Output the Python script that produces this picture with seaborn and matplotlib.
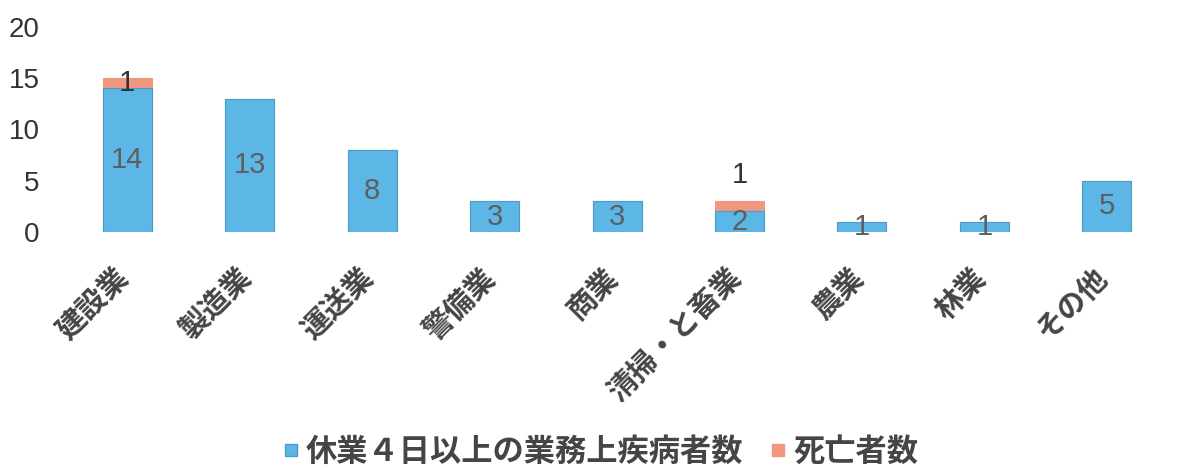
import matplotlib
matplotlib.use("Agg")
import matplotlib.pyplot as plt
import matplotlib.transforms as mtransforms
from matplotlib.lines import Line2D
import pandas as pd
import seaborn as sns

# Occupational illness counts by industry
categories = ["建設業", "製造業", "運送業", "警備業", "商業", "清掃・と畜業", "農業", "林業", "その他"]
sick_leave = [14, 13, 8, 3, 3, 2, 1, 1, 5]   # 休業4日以上の業務上疾病者数
deaths = [1, 0, 0, 0, 0, 1, 0, 0, 0]          # 死亡者数
y_ticks = [0, 5, 10, 15, 20]

legend_labels = ["休業４日以上の業務上疾病者数", "死亡者数"]
BLUE = "#5cb6e6"
RED = "#f0977f"

sns.set_theme(style="white")
plt.rcParams["font.family"] = ["Noto Sans CJK JP", "DejaVu Sans"]
NUM_FONT = ["Liberation Sans Narrow", "Liberation Sans", "DejaVu Sans"]

df = pd.DataFrame({
    "category": categories,
    "sick": sick_leave,
    "deaths": deaths,
})
df["total"] = df["sick"] + df["deaths"]

fig = plt.figure(figsize=(11.9, 4.7), dpi=100)
ax = fig.add_axes([0.0555, 0.5064, 0.926, 0.4362])

# Stacked bars: totals in red underneath, sick-leave counts in blue on top
sns.barplot(data=df, x="category", y="total", color=RED, saturation=1,
            width=0.4, ax=ax, edgecolor=RED, linewidth=0.8)
sns.barplot(data=df, x="category", y="sick", color=BLUE, saturation=1,
            width=0.4, ax=ax, edgecolor="#4a9ccc", linewidth=0.8)

ax.set_ylim(0, 20)
ax.set_xlim(-0.5, len(categories) - 0.5)
ax.set_yticks(y_ticks)
ax.set_yticklabels([str(t) for t in y_ticks], fontsize=20,
                   family=["Liberation Sans", "DejaVu Sans"], color="#333333")
ax.tick_params(axis="y", length=0, pad=19)
ax.tick_params(axis="x", length=0, pad=22)
ax.set_xlabel("")
ax.set_ylabel("")
for s in ax.spines.values():
    s.set_visible(False)
ax.grid(False)

ax.set_xticks(range(len(categories)))
ax.set_xticklabels(categories, rotation=45, ha="right", va="top",
                   fontsize=21, fontweight="bold", color="#454545")
shift = mtransforms.ScaledTranslation(7 / 100, 0, fig.dpi_scale_trans)
for lbl in ax.get_xticklabels():
    lbl.set_transform(lbl.get_transform() + shift)

# Value labels
for i, (s_val, d_val) in enumerate(zip(sick_leave, deaths)):
    ax.text(i, s_val / 2, str(s_val), ha="center", va="center",
            fontsize=21, family=NUM_FONT, color="#5e5e5e")
    if d_val:
        if s_val >= 3:
            ax.text(i, s_val + d_val / 2, str(d_val), ha="center", va="center",
                    fontsize=21, family=NUM_FONT, color="#333333")
        else:
            ax.annotate(str(d_val), (i, s_val + d_val), xytext=(0, 9),
                        textcoords="offset points", ha="center", va="bottom",
                        fontsize=21, family=NUM_FONT, color="#333333")

handles = [Line2D([], [], linestyle="none", marker="s", markersize=8,
                  markerfacecolor=BLUE, markeredgecolor="#4a9ccc"),
           Line2D([], [], linestyle="none", marker="s", markersize=8,
                  markerfacecolor=RED, markeredgecolor=RED)]
leg = fig.legend(handles, legend_labels, loc="center", bbox_to_anchor=(0.505, 0.038),
                 ncol=2, frameon=False, handlelength=0.45,
                 handletextpad=0.25, columnspacing=0.9,
                 prop={"family": ["Noto Sans CJK JP", "DejaVu Sans"],
                       "size": 22.5, "weight": "bold"})
for t in leg.get_texts():
    t.set_color("#454545")

fig.savefig("out.png", dpi=100, facecolor="white")
